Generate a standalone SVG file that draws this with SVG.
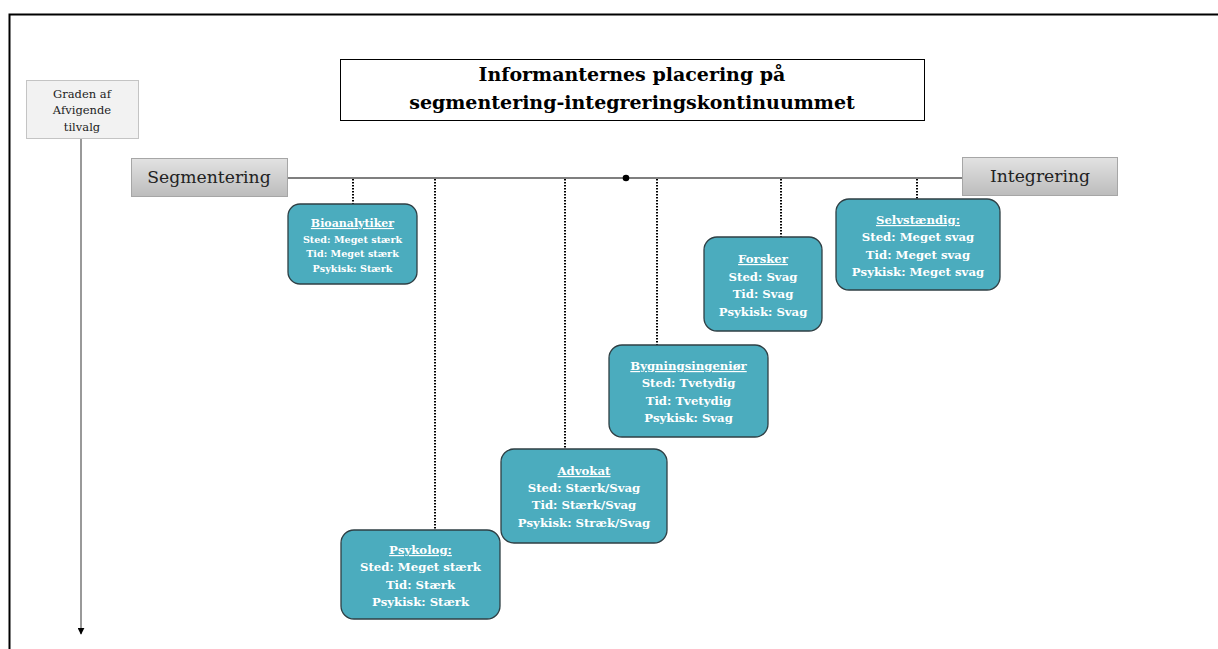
<svg xmlns="http://www.w3.org/2000/svg" width="1218" height="649" viewBox="0 0 1218 649">
<defs>
<linearGradient id="gray" x1="0" y1="0" x2="0" y2="1">
<stop offset="0" stop-color="#e2e2e2"/>
<stop offset="1" stop-color="#bcbcbc"/>
</linearGradient>
<marker id="arr" viewBox="0 0 10 10" refX="9" refY="5" markerWidth="7" markerHeight="7" orient="auto" markerUnits="userSpaceOnUse">
<path d="M0,0 L10,5 L0,10 z" fill="#000"/>
</marker>
</defs>
<style>
text{font-family:"DejaVu Serif","Liberation Serif",serif;text-anchor:middle}
.node rect{fill:#4bacbe;stroke:#2f3f44;stroke-width:1.3}
.node text{fill:#fff;font-weight:bold}
.node .t{text-decoration:underline}
.dot{stroke:#000;stroke-width:2;stroke-dasharray:1.5 1.5;fill:none}
.lab{fill:url(#gray);stroke:#a6a6a6;stroke-width:1}
</style>
<rect width="1218" height="649" fill="#fff"/>
<path d="M9.5,660 V14.5 H1230" fill="none" stroke="#000" stroke-width="2"/>

<g id="title">
<rect x="340.5" y="59.5" width="584" height="61" fill="#fff" stroke="#000" stroke-width="1"/>
<text x="632" y="81" font-size="19" font-weight="bold">Informanternes placering på</text>
<text x="632" y="109" font-size="19" font-weight="bold">segmentering-integreringskontinuummet</text>
</g>

<g id="graden">
<rect x="26.5" y="80.5" width="112" height="58" fill="#f2f2f2" stroke="#c4c4c4"/>
<text x="82" y="98" font-size="11.5" fill="#222">Graden af</text>
<text x="82" y="114" font-size="11.5" fill="#222">Afvigende</text>
<text x="82" y="131" font-size="11.5" fill="#222">tilvalg</text>
</g>

<g id="segmentering">
<rect class="lab" x="131.5" y="158.5" width="156" height="38"/>
<text x="209" y="183" font-size="17.2" fill="#222">Segmentering</text>
</g>

<g id="integrering">
<rect class="lab" x="962.5" y="157.5" width="155" height="38"/>
<text x="1040" y="182" font-size="17.2" fill="#222">Integrering</text>
</g>

<g id="connectors">
<line x1="81" y1="139" x2="81" y2="634" stroke="#555" stroke-width="1.2" marker-end="url(#arr)"/>
<line x1="288" y1="178" x2="962" y2="178" stroke="#555" stroke-width="1.3"/>
<circle cx="626" cy="178" r="3.3" fill="#000"/>
<line class="dot" x1="353" y1="179" x2="353" y2="204"/>
<line class="dot" x1="435" y1="179" x2="435" y2="530"/>
<line class="dot" x1="565" y1="179" x2="565" y2="449"/>
<line class="dot" x1="657" y1="179" x2="657" y2="345"/>
<line class="dot" x1="781" y1="179" x2="781" y2="237"/>
<line class="dot" x1="917" y1="179" x2="917" y2="199"/>
</g>

<g id="bioanalytiker" class="node">
<rect x="288" y="204" width="129" height="80" rx="12"/>
<text class="t" x="352.5" y="227" font-size="11">Bioanalytiker</text>
<text x="352.5" y="243" font-size="9.6">Sted: Meget stærk</text>
<text x="352.5" y="257" font-size="9.6">Tid: Meget stærk</text>
<text x="352.5" y="272" font-size="9.6">Psykisk: Stærk</text>
</g>

<g id="psykolog" class="node">
<rect x="341" y="530" width="159" height="89" rx="13"/>
<text class="t" x="420.5" y="554" font-size="11.7">Psykolog:</text>
<text x="420.5" y="571" font-size="11.7">Sted: Meget stærk</text>
<text x="420.5" y="589" font-size="11.7">Tid: Stærk</text>
<text x="420.5" y="606" font-size="11.7">Psykisk: Stærk</text>
</g>

<g id="advokat" class="node">
<rect x="501" y="449" width="166" height="94" rx="13"/>
<text class="t" x="584" y="475" font-size="11.7">Advokat</text>
<text x="584" y="492" font-size="11.7">Sted: Stærk/Svag</text>
<text x="584" y="509" font-size="11.7">Tid: Stærk/Svag</text>
<text x="584" y="527" font-size="11.7">Psykisk: Stræk/Svag</text>
</g>

<g id="bygningsingenior" class="node">
<rect x="609" y="345" width="159" height="92" rx="13"/>
<text class="t" x="688.5" y="370" font-size="11.7">Bygningsingeniør</text>
<text x="688.5" y="387" font-size="11.7">Sted: Tvetydig</text>
<text x="688.5" y="405" font-size="11.7">Tid: Tvetydig</text>
<text x="688.5" y="422" font-size="11.7">Psykisk: Svag</text>
</g>

<g id="forsker" class="node">
<rect x="704" y="237" width="118" height="94" rx="13"/>
<text class="t" x="763" y="263" font-size="11.7">Forsker</text>
<text x="763" y="281" font-size="11.7">Sted: Svag</text>
<text x="763" y="298" font-size="11.7">Tid: Svag</text>
<text x="763" y="316" font-size="11.7">Psykisk: Svag</text>
</g>

<g id="selvstaendig" class="node">
<rect x="836" y="199" width="164" height="91" rx="13"/>
<text class="t" x="918" y="224" font-size="11.7">Selvstændig:</text>
<text x="918" y="241" font-size="11.7">Sted: Meget svag</text>
<text x="918" y="259" font-size="11.7">Tid: Meget svag</text>
<text x="918" y="276" font-size="11.7">Psykisk: Meget svag</text>
</g>
</svg>
